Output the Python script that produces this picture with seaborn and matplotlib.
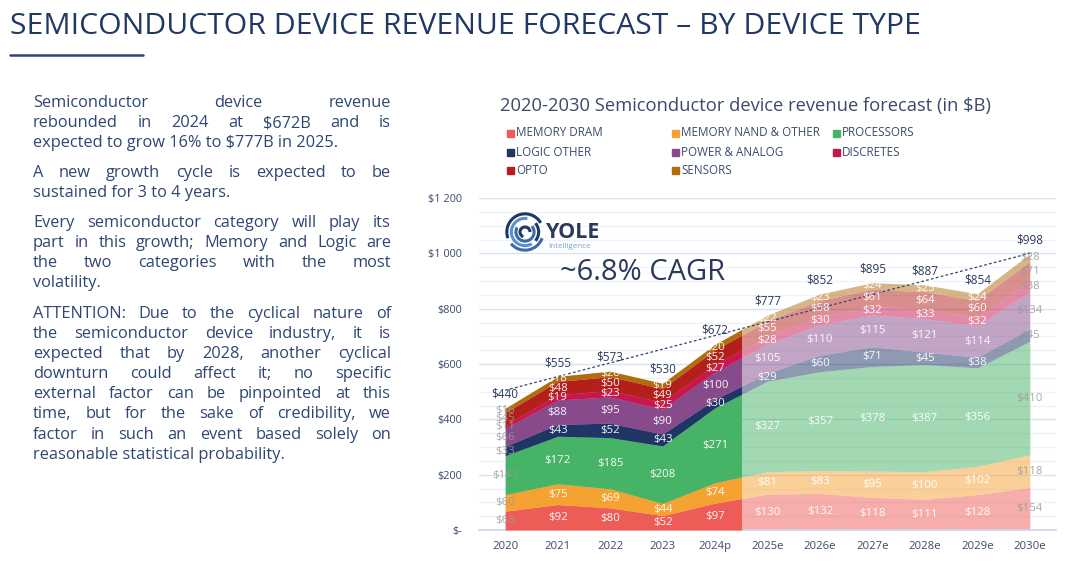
import numpy as np
import pandas as pd
import matplotlib
matplotlib.use("Agg")
import matplotlib.pyplot as plt
from matplotlib.patches import Rectangle, Arc
import seaborn as sns

# datos (en $B)
years = ["2020", "2021", "2022", "2023", "2024p", "2025e", "2026e", "2027e", "2028e", "2029e", "2030e"]
dram = [68, 92, 80, 52, 97, 130, 132, 118, 111, 128, 154]
nand = [60, 75, 69, 44, 74, 81, 83, 95, 100, 102, 118]
processors = [141, 172, 185, 208, 271, 327, 357, 378, 387, 356, 410]
logic = [33, 43, 52, 43, 30, 29, 60, 71, 45, 38, 45]
power = [66, 88, 95, 90, 100, 105, 110, 115, 121, 114, 134]
discretes = [11, 19, 23, 25, 27, 28, 30, 32, 33, 32, 38]
opto = [45, 48, 50, 49, 52, 55, 58, 61, 64, 60, 71]
sensors = [16, 18, 20, 19, 20, 22, 23, 24, 25, 24, 28]
totals = [440, 555, 573, 530, 672, 777, 852, 895, 887, 854, 998]
trend_x = [0, 10]
trend_y = [505, 1000]

series_names = ["MEMORY DRAM", "MEMORY NAND & OTHER", "PROCESSORS", "LOGIC OTHER",
                "POWER & ANALOG", "DISCRETES", "OPTO", "SENSORS"]
series = [dram, nand, processors, logic, power, discretes, opto, sensors]
colores = ["#ee5c58", "#f6a233", "#46b367", "#1f3566", "#874a8a", "#c8174f", "#b3201c", "#b06d10"]

NAVY = "#1f3864"
TXT = "#2e4672"
TICK = "#3b4a6b"

sns.set_theme(style="white")
plt.rcParams['font.family'] = ['Open Sans', 'DejaVu Sans']

fig = plt.figure(figsize=(10.8, 5.69), dpi=100)
W, H = 1080, 569
def fx(p): return p / W
def fy(p): return 1 - p / H

# ---------------- titulo ----------------
fig.text(fx(10), fy(26), "SEMICONDUCTOR DEVICE REVENUE FORECAST – BY DEVICE TYPE",
         fontsize=21.7, color=NAVY, va="center", ha="left")
fig.add_artist(plt.Line2D([fx(10), fx(143)], [fy(55), fy(55)], color=TXT, lw=1.8,
                          transform=fig.transFigure))

# ---------------- texto justificado ----------------
parrafos = [
    ["Semiconductor device revenue",
     "rebounded in 2024 at $672B and is",
     "expected to grow 16% to $777B in 2025."],
    ["A new growth cycle is expected to be",
     "sustained for 3 to 4 years."],
    ["Every semiconductor category will play its",
     "part in this growth; Memory and Logic are",
     "the two categories with the most",
     "volatility."],
    ["ATTENTION: Due to the cyclical nature of",
     "the semiconductor device industry, it is",
     "expected that by 2028, another cyclical",
     "downturn could affect it; no specific",
     "external factor can be pinpointed at this",
     "time, but for the sake of credibility, we",
     "factor in such an event based solely on",
     "reasonable statistical probability."],
]
inicio_par = [102, 172, 222, 313]
x0, x1 = 33, 391
renderer = fig.canvas.get_renderer()
fs_txt = 11.8
for lineas, y_ini in zip(parrafos, inicio_par):
    for i, linea in enumerate(lineas):
        y = y_ini + i * 20.1 + 5   # linea base
        if i == len(lineas) - 1:
            fig.text(fx(x0), fy(y), linea, fontsize=fs_txt, color=TXT, va="baseline",
                     ha="left", parse_math=False)
            continue
        palabras = linea.split(" ")
        objs = [fig.text(fx(x0), fy(y), w, fontsize=fs_txt, color=TXT, va="baseline",
                         ha="left", parse_math=False)
                for w in palabras]
        anchos = [t.get_window_extent(renderer).width for t in objs]
        gap = (x1 - x0 - sum(anchos)) / (len(palabras) - 1)
        xp = x0
        for t, a in zip(objs, anchos):
            t.set_x(fx(xp))
            xp += a + gap

# ---------------- grafico ----------------
ax = fig.add_axes([fx(479), fy(530), (1056 - 479) / W, (530 - 198) / H])
x = np.arange(len(years))

# pronostico (claro) y luego historico (saturado) recortado hasta 2024.5
claro = ax.stackplot(x, *series, colors=colores, alpha=0.5, linewidth=0, zorder=2)
oscuro = ax.stackplot(x, *series, colors=colores, linewidth=0, zorder=3)
clip = Rectangle((-1, -10), 5.5, 3000, transform=ax.transData)
for p in oscuro:
    p.set_clip_path(clip)

sns.lineplot(x=trend_x, y=trend_y, ax=ax, color="#34466e", lw=0.9,
             linestyle=(0, (2.2, 1.8)), zorder=4)

# etiquetas de cada segmento
acum = np.zeros(len(years))
for vals in series:
    v = np.array(vals)
    for i in range(len(years)):
        if i in (0, len(years) - 1):
            col, a = "#9a9a9a", 0.85
        else:
            col, a = "white", 0.95
        ax.text(i, acum[i] + v[i] / 2, f"${v[i]}", ha="center", va="center",
                fontsize=8.2, color=col, alpha=a, zorder=5)
    acum += v

for i, t in enumerate(totals):
    ax.annotate(f"${t}", (i, acum[i]), xytext=(0, 10), textcoords="offset points",
                ha="center", va="center", fontsize=8.5, color="#2b3a5c", zorder=6)

ax.set_xlim(-0.5, 10.5)
ax.set_ylim(0, 1200)
ax.set_yticks(range(0, 1201, 200))
ax.set_yticklabels(["$-", "$200", "$400", "$600", "$800", "$1 000", "$1 200"])
ax.set_yticks(range(0, 1201, 50), minor=True)
ax.set_xticks(x)
ax.set_xticklabels(years)
ax.set_xticks(np.arange(-0.5, 11, 1), minor=True)
ax.grid(which="major", axis="y", color="#dbe2f0", lw=1.0, zorder=0)
ax.grid(which="minor", axis="y", color="#eef1f8", lw=0.9, zorder=0)
ax.set_axisbelow(True)
ax.tick_params(axis="y", which="both", length=0, labelsize=7.8, labelcolor=TICK, pad=12)
ax.tick_params(axis="x", which="major", length=0, labelsize=8.2, labelcolor=TICK, pad=8)
ax.tick_params(axis="x", which="minor", length=5, color="#cfd8ea", width=0.8, direction="out")
for s in ["top", "right", "left"]:
    ax.spines[s].set_visible(False)
ax.spines["bottom"].set_color("#cfd8ea")
ax.set_xlabel("")
ax.set_ylabel("")

# subtitulo y leyenda manual
fig.text(fx(500), fy(106), "2020-2030 Semiconductor device revenue forecast (in $B)",
         fontsize=13.2, color=TICK, va="center", ha="left")
col_x = [507, 672, 833]
fil_y = [133, 152, 170]
for k, (nom, c) in enumerate(zip(series_names, colores)):
    cx = col_x[k % 3]
    cy = fil_y[k // 3]
    fig.add_artist(Rectangle((fx(cx), fy(cy + 3.5)), 7 / W, 7 / H, color=c,
                             transform=fig.transFigure))
    fig.text(fx(cx + 9), fy(cy), nom, fontsize=8.4, color=TICK, va="center", ha="left")

# logo YOLE
lax = fig.add_axes([fx(505), fy(252), 40 / W, 40 / H])
lax.set_xlim(-1.1, 1.1)
lax.set_ylim(-1.1, 1.1)
lax.set_aspect("equal")
lax.axis("off")
arcos = [(2.0, 30, 200, "#1f3864"), (2.0, 220, 340, "#3a6aa8"),
         (1.5, 80, 300, "#5b8fcf"), (1.5, 320, 40, "#1f3864"),
         (1.0, 150, 400, "#3a6aa8"), (0.55, 0, 250, "#1f3864")]
for d, t1, t2, c in arcos:
    lax.add_patch(Arc((0, 0), d, d, theta1=t1, theta2=t2, color=c, lw=2.2))
fig.text(fx(546), fy(233), "YOLE", fontsize=15.5, fontweight="bold", color="#2b3a5c",
         va="center", ha="left")
fig.text(fx(548), fy(246), "Intelligence", fontsize=5.8, color="#6fa3d8", va="center", ha="left")

fig.text(fx(560), fy(273), "~6.8% CAGR", fontsize=21, color="#2b3a5c", va="center", ha="left")

fig.savefig("out.png", dpi=100)
